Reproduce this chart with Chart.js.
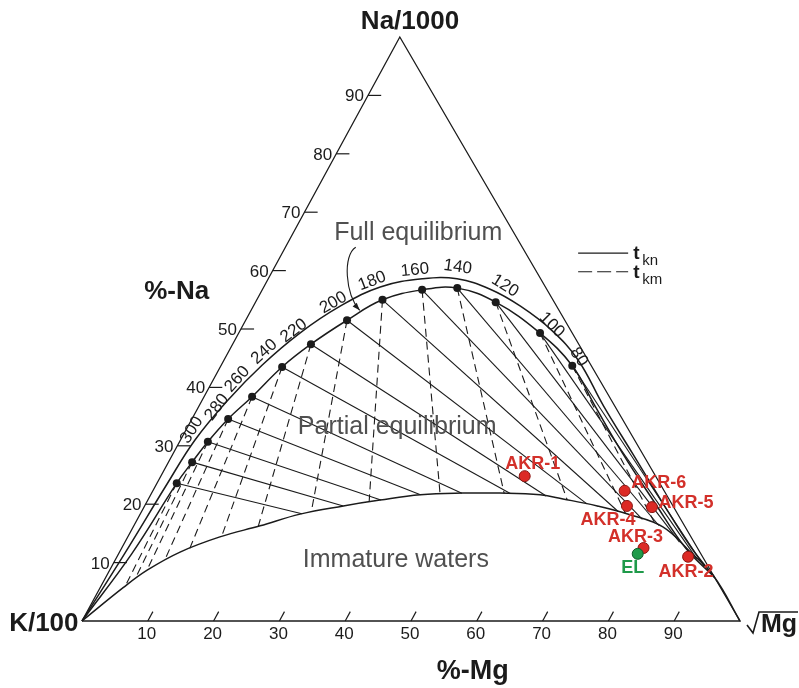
<!DOCTYPE html>
<html lang="en">
<head>
<meta charset="utf-8">
<title>Na-K-Mg diagram</title>
<script src="https://cdn.jsdelivr.net/npm/chart.js@4.4.1/dist/chart.umd.min.js"></script>
<style>
  html, body { margin: 0; padding: 0; background: #fff; }
  .box { width: 799px; height: 688px; position: relative; }
</style>
</head>
<body>
<div class="box"><canvas id="myChart"></canvas></div>
<script>
/* eslint-disable no-undef */
// Data, in ternary percent: %-Mg and %-Na (K/100 is the rest)

// Triangle: K/100 -> Na/1000 -> sqrt(Mg) -> K/100
const frameMg = [0, 0, 100, 0];
const frameNa = [0, 100, 0, 0];

// Axis ticks
const naTicks = [10, 20, 30, 40, 50, 60, 70, 80, 90];
const mgTicks = [10, 20, 30, 40, 50, 60, 70, 80, 90];

// Full equilibrium dots (tkn / tkm intersections)
const eqMg = [3.0, 3.6, 4.3, 5.5, 7.3, 9.4, 11.9, 15.4, 19.1, 24.3, 29.5, 36.5, 45.8, 53.4];
const eqNa = [23.6, 27.2, 30.7, 34.6, 38.4, 43.5, 47.4, 51.5, 55.0, 56.7, 57.0, 54.6, 49.3, 43.7];
const tempLabels = ['300', '280', '260', '240', '220', '200', '180', '160', '140', '120', '100', '80'];

// Full equilibrium line
const fullMg = [0, 2.0, 3.0, 3.6, 4.3, 5.5, 7.3, 9.4, 11.9, 15.4, 19.1, 24.3, 29.5, 36.5, 45.8, 53.4, 60.0, 68.3, 77.0, 85.8, 92.5];
const fullNa = [0, 11.5, 23.6, 27.2, 30.7, 34.6, 38.4, 43.5, 47.4, 51.5, 55.0, 56.7, 57.0, 54.6, 49.3, 43.7, 37.0, 28.7, 20.5, 12.4, 7.5];

// Outer (labelled) line
const outerMg = [0, 0.9, 1.6, 2.2, 3.9, 6.2, 9.3, 13.2, 17.7, 23.5, 28.7, 34.6, 40.6, 47.3, 53.8, 61.5, 69.8, 78.2, 86.6, 92.5];
const outerNa = [0, 11.5, 23.5, 31.0, 37.8, 43.8, 49.3, 53.9, 57.2, 58.6, 58.6, 56.8, 53.9, 49.8, 44.7, 36.8, 28.7, 20.5, 12.5, 7.5];

// Immature waters boundary
const immMg = [0, 3.5, 5.7, 9.2, 14.0, 19.2, 24.3, 30.2, 35.3, 41.0, 47.3, 52.9, 59.2, 63.0, 68.8, 74.5, 80.5, 86.5, 92.5, 100];
const immNa = [0, 5.7, 8.7, 11.8, 14.4, 16.3, 18.3, 19.7, 20.7, 21.6, 21.9, 21.9, 21.6, 20.9, 19.7, 18.2, 16.1, 12.0, 7.5, 0];

// Samples
const sampleNames = ['AKR-1', 'AKR-2', 'AKR-3', 'AKR-4', 'AKR-5', 'AKR-6', 'EL'];
const sampleMg = [55.3, 86.8, 79.3, 73.3, 77.2, 71.7, 78.9];
const sampleNa = [24.8, 11.0, 12.5, 19.7, 19.5, 22.3, 11.5];

// Layout
const INK = '#1b1b1b';
const FONT = '"Liberation Sans", Arial, sans-serif';
const APEX = 0.483; // where the Na/1000 apex sits along the base
const RED = '#dc2a25';
const GREEN = '#1f9a4a';

// label centre (chart units) and rotation for the temperatures
const tempLabelPos = [
  [16.7, 32.7, -58], [20.5, 36.6, -53], [23.6, 41.4, -48], [27.7, 46.1, -42],
  [32.2, 49.7, -37], [38.2, 54.5, -30], [44.1, 58.2, -21], [50.6, 60.1, -6],
  [57.1, 60.6, 8], [64.3, 57.4, 32], [71.4, 50.7, 45], [75.5, 45.2, 56],
];
// sample label offsets from the point, px
const sampleLabelOffset = [[8, -12], [-2, 15], [-8, -11], [-19, 14], [34, -4], [34, -8], [-5, 14]];

const tern = (mg, na) => ({ x: mg + APEX * na, y: na });
const series = (mgs, nas) => mgs.map((m, i) => tern(m, nas[i]));

// first crossing of ray p + t*d with a polyline
function hitCurve(p, d, curve) {
  let best = null;
  for (let i = 0; i < curve.length - 1; i++) {
    const a = curve[i];
    const b = curve[i + 1];
    const ex = b.x - a.x;
    const ey = b.y - a.y;
    const den = d.x * ey - d.y * ex;
    if (Math.abs(den) < 1e-9) continue;
    const wx = a.x - p.x;
    const wy = a.y - p.y;
    const t = (wx * ey - wy * ex) / den;
    const u = (wx * d.y - wy * d.x) / den;
    if (t > 1e-6 && u >= 0 && u <= 1 && (best === null || t < best)) best = t;
  }
  return best === null ? null : { x: p.x + d.x * best, y: p.y + d.y * best };
}

const immCurve = series(immMg, immNa);
const eqPoints = series(eqMg, eqNa);
const mgCorner = tern(100, 0);
const naCorner = tern(0, 100);

// tkn: towards the sqrt(Mg) corner, tkm: away from the Na/1000 corner
const tknLines = eqPoints.map((p) => [p,
  hitCurve(p, { x: mgCorner.x - p.x, y: mgCorner.y - p.y }, immCurve) || mgCorner]);
const tkmLines = eqPoints.map((p) => [p,
  hitCurve(p, { x: p.x - naCorner.x, y: p.y - naCorner.y }, immCurve) || p]);

const lineSet = (data, extra) => Object.assign({
  data,
  showLine: true,
  pointRadius: 0,
  borderColor: INK,
  borderWidth: 1.1,
  tension: 0,
  clip: false,
}, extra);

const data = {
  datasets: [
    {
      data: series(sampleMg, sampleNa),
      pointRadius: 5.5,
      pointBackgroundColor: (c) => (sampleNames[c.dataIndex] === 'EL' ? GREEN : RED),
      pointBorderColor: (c) => (sampleNames[c.dataIndex] === 'EL' ? '#0f5a2a' : '#8a1612'),
      pointBorderWidth: 1,
      clip: false,
    },
    {
      data: eqPoints,
      pointRadius: 4,
      pointBackgroundColor: INK,
      pointBorderWidth: 0,
      clip: false,
    },
    lineSet(series(fullMg, fullNa), { borderWidth: 1.5, tension: 0.4 }),
    lineSet(series(outerMg, outerNa), { borderWidth: 1.5, tension: 0.4 }),
    lineSet(immCurve, { borderWidth: 1.5, tension: 0.4 }),
    ...tknLines.map((l) => lineSet(l)),
    ...tkmLines.map((l) => lineSet(l, { borderDash: [8, 5] })),
    lineSet(series(frameMg, frameNa), { borderWidth: 1.3 }),
  ],
};

// Texts, ticks, legend
const decor = {
  id: 'decor',
  afterDatasetsDraw(chart) {
    const { ctx } = chart;
    const sx = chart.scales.x;
    const sy = chart.scales.y;
    const at = (u, v) => ({ x: sx.getPixelForValue(u), y: sy.getPixelForValue(v) });
    const tp = (mg, na) => { const c = tern(mg, na); return at(c.x, c.y); };
    const seg = (a, b) => { ctx.beginPath(); ctx.moveTo(a.x, a.y); ctx.lineTo(b.x, b.y); ctx.stroke(); };

    ctx.save();
    ctx.strokeStyle = INK;
    ctx.fillStyle = INK;
    ctx.lineWidth = 1.2;

    // %-Na ticks
    ctx.font = `17px ${FONT}`;
    ctx.textAlign = 'right';
    ctx.textBaseline = 'alphabetic';
    naTicks.forEach((v) => {
      const a = tp(0, v);
      seg(a, tp(2, v));
      ctx.fillText(String(v), a.x - 4, a.y + 6);
    });

    // %-Mg ticks
    ctx.textAlign = 'center';
    mgTicks.forEach((v) => {
      const a = tp(v, 0);
      seg(a, tp(v, 1.6));
      ctx.fillText(String(v), a.x - 1, a.y + 18);
    });

    // temperatures
    ctx.textBaseline = 'middle';
    tempLabels.forEach((t, i) => {
      const [u, v, ang] = tempLabelPos[i];
      const p = at(u, v);
      ctx.save();
      ctx.translate(p.x, p.y);
      ctx.rotate((ang * Math.PI) / 180);
      ctx.fillText(t, 0, 0);
      ctx.restore();
    });

    // corner and axis titles
    ctx.font = `bold 26px ${FONT}`;
    let p = at(49.85, 102.6);
    ctx.fillText('Na/1000', p.x, p.y);
    p = at(-5.8, -0.5);
    ctx.fillText('K/100', p.x, p.y);
    p = at(14.4, 56.3);
    ctx.fillText('%-Na', p.x, p.y);
    ctx.font = `bold 27px ${FONT}`;
    p = at(59.4, -8.6);
    ctx.fillText('%-Mg', p.x, p.y);

    // sqrt(Mg)
    const mv = tp(100, 0);
    ctx.lineWidth = 1.6;
    ctx.beginPath();
    ctx.moveTo(mv.x + 7, mv.y + 4);
    ctx.lineTo(mv.x + 13, mv.y + 12);
    ctx.lineTo(mv.x + 19, mv.y - 9);
    ctx.lineTo(mv.x + 58, mv.y - 9);
    ctx.stroke();
    ctx.font = `bold 25px ${FONT}`;
    ctx.textAlign = 'left';
    ctx.textBaseline = 'alphabetic';
    ctx.fillText('Mg', mv.x + 21, mv.y + 11);

    // fields
    ctx.fillStyle = '#505050';
    ctx.font = `25px ${FONT}`;
    ctx.textAlign = 'center';
    ctx.textBaseline = 'middle';
    p = at(51.1, 66.4);
    ctx.fillText('Full equilibrium', p.x, p.y);
    p = at(47.9, 33.2);
    ctx.fillText('Partial equilibrium', p.x, p.y);
    p = at(47.7, 10.4);
    ctx.fillText('Immature waters', p.x, p.y);

    // arrow to the full equilibrium line
    ctx.fillStyle = INK;
    ctx.lineWidth = 1.1;
    const a0 = at(41.6, 64.0);
    const c1 = at(39.6, 62.6);
    const c2 = at(40.0, 56.0);
    const a1 = at(42.2, 53.2);
    ctx.beginPath();
    ctx.moveTo(a0.x, a0.y);
    ctx.bezierCurveTo(c1.x, c1.y, c2.x, c2.y, a1.x, a1.y);
    ctx.stroke();
    const ang = Math.atan2(a1.y - c2.y, a1.x - c2.x);
    ctx.beginPath();
    ctx.moveTo(a1.x, a1.y);
    ctx.lineTo(a1.x - 8 * Math.cos(ang - 0.35), a1.y - 8 * Math.sin(ang - 0.35));
    ctx.lineTo(a1.x - 8 * Math.cos(ang + 0.35), a1.y - 8 * Math.sin(ang + 0.35));
    ctx.closePath();
    ctx.fill();

    // legend
    ctx.lineWidth = 1.2;
    const l1 = at(75.4, 63.0);
    const l2 = at(83.0, 63.0);
    seg(l1, l2);
    const d1 = at(75.4, 59.8);
    const d2 = at(83.0, 59.8);
    ctx.setLineDash([14, 5]);
    seg(d1, d2);
    ctx.setLineDash([]);
    ctx.textAlign = 'left';
    ctx.textBaseline = 'alphabetic';
    [[l2, 'kn'], [d2, 'km']].forEach(([q, sub]) => {
      ctx.font = `bold 19px ${FONT}`;
      ctx.fillText('t', q.x + 5, q.y + 6);
      ctx.font = `15px ${FONT}`;
      ctx.fillText(sub, q.x + 14, q.y + 12);
    });

    // sample names
    ctx.font = `bold 18px ${FONT}`;
    ctx.textAlign = 'center';
    ctx.textBaseline = 'middle';
    sampleNames.forEach((name, i) => {
      const q = tp(sampleMg[i], sampleNa[i]);
      const [ox, oy] = sampleLabelOffset[i];
      ctx.fillStyle = name === 'EL' ? GREEN : '#d3302a';
      ctx.fillText(name, q.x + ox, q.y + oy);
    });

    ctx.restore();
  },
};

const config = {
  type: 'scatter',
  data,
  options: {
    responsive: true,
    maintainAspectRatio: false,
    animation: false,
    events: [],
    layout: {
      padding: { left: 82, right: 59, top: 37, bottom: 67 },
    },
    plugins: {
      legend: { display: false },
      tooltip: { enabled: false },
    },
    scales: {
      x: { type: 'linear', min: 0, max: 100, display: false },
      y: { type: 'linear', min: 0, max: 100, display: false },
    },
  },
  plugins: [decor],
};

const myChart = new Chart(document.getElementById('myChart'), config);
</script>
</body>
</html>
